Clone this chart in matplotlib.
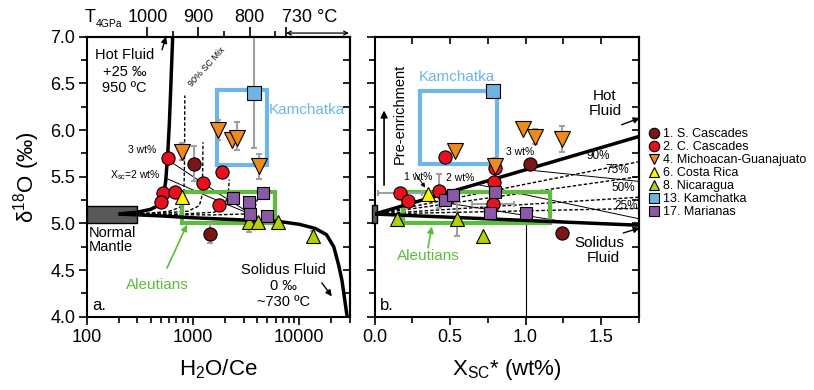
import matplotlib
matplotlib.use('Agg')
import matplotlib.pyplot as plt
from matplotlib.lines import Line2D
from matplotlib.patches import Rectangle
from matplotlib.ticker import FixedLocator, NullFormatter, LogLocator

plt.rcParams['font.family'] = ['Liberation Sans', 'DejaVu Sans']
plt.rcParams['mathtext.fontset'] = 'custom'
plt.rcParams['mathtext.rm'] = 'Liberation Sans'
plt.rcParams['mathtext.it'] = 'Liberation Sans:italic'
plt.rcParams['mathtext.default'] = 'regular'

# ---------------- colours ----------------
C_SCASC = '#7a1518'
C_CCASC = '#e8101f'
C_MICH = '#f08a1c'
C_CR = '#fff200'
C_NIC = '#b5d000'
C_KAM = '#6bb4e4'
C_MAR = '#8a58a6'
C_KAMBOX = '#6cb6e8'
C_ALEU = '#5cbd3a'
GRAY = '#a0a0a0'

# ---------------- axes ticks ----------------
y_major = [4.0, 4.5, 5.0, 5.5, 6.0, 6.5, 7.0]
y_labels = ['4.0', '4.5', '5.0', '5.5', '6.0', '6.5', '7.0']
y_minor = [4.25, 4.75, 5.25, 5.75, 6.25, 6.75]
y_all = [4.0, 4.25, 4.5, 4.75, 5.0, 5.25, 5.5, 5.75, 6.0, 6.25, 6.5, 6.75, 7.0]
a_x_major = [100, 1000, 10000]
a_x_labels = ['100', '1000', '10000']
b_x_major = [0.0, 0.5, 1.0, 1.5]
b_x_labels = ['0.0', '0.5', '1.0', '1.5']
b_x_minor = [0.25, 0.75, 1.25, 1.75]
b_x_all = [0.0, 0.25, 0.5, 0.75, 1.0, 1.25, 1.5, 1.75]

# ---------------- panel a data (H2O/Ce, d18O) ----------------
a_scasc_x = [1014, 1462]
a_scasc_y = [5.64, 4.89]
a_ccasc_x = [586, 1888, 1245, 526, 679, 499, 1753]
a_ccasc_y = [5.70, 5.55, 5.43, 5.32, 5.34, 5.23, 5.20]
a_mich_x = [786, 1718, 2351, 2625, 4160]
a_mich_y = [5.77, 6.00, 5.89, 5.91, 5.61]
a_cr_x = [798]
a_cr_y = [5.28]
a_nic_x = [3388, 4070, 6310, 13600]
a_nic_y = [5.01, 5.02, 5.02, 4.86]
a_kam_x = [3724]
a_kam_y = [6.40]
a_mar_x = [2404, 3342, 4540, 3467, 4990]
a_mar_y = [5.27, 5.23, 5.32, 5.10, 5.08]

a_err_x = [3724, 786, 1718, 2625, 4160, 1014, 1462, 3388, 13600]
a_err_y = [6.40, 5.77, 6.00, 5.94, 5.61, 5.64, 4.89, 5.01, 4.86]
a_err_lo = [0.59, 0.09, 0.11, 0.15, 0.13, 0.19, 0.10, 0.10, 0.06]
a_err_hi = [0.80, 0.09, 0.11, 0.15, 0.13, 0.19, 0.10, 0.10, 0.06]

# model curves, panel a
hot_x = [200, 300, 400, 470, 510, 535, 555, 578, 600, 622, 646, 655]
hot_y = [5.10, 5.12, 5.15, 5.19, 5.25, 5.33, 5.45, 5.71, 6.05, 6.50, 7.00, 7.20]
sol_x = [200, 500, 1000, 2500, 6500, 10000, 14100, 18000, 21100, 23500, 25200, 27000, 28200, 29000]
sol_y = [5.10, 5.08, 5.06, 5.04, 5.02, 4.99, 4.946, 4.88, 4.75, 4.55, 4.39, 4.15, 4.00, 3.90]
m90_x = [200, 400, 600, 750, 800, 825, 835, 840]
m90_y = [5.10, 5.11, 5.13, 5.17, 5.22, 5.35, 5.70, 6.37]
m75_x = [200, 500, 900, 1150, 1210, 1235, 1245]
m75_y = [5.10, 5.11, 5.13, 5.19, 5.28, 5.50, 5.87]
m50_x = [200, 800, 1600, 2000, 2150, 2200]
m50_y = [5.10, 5.10, 5.12, 5.20, 5.32, 5.47]
m25_x = [200, 1500, 3000, 3800, 4100]
m25_y = [5.10, 5.09, 5.10, 5.16, 5.28]
iso3_x = [600, 1860, 3300]
iso3_y = [5.67, 5.30, 5.12]
iso2_x = [568, 1660, 3300]
iso2_y = [5.48, 5.25, 5.11]

# temperature scale (T at 4 GPa) positions along H2O/Ce
t_major_pos = [373, 1117, 3414, 7514]
t_major_lab = ['1000', '900', '800', '']
t_minor_pos = [646, 1973, 5906]

# ---------------- panel b data (Xsc*, d18O) ----------------
b_scasc_x = [1.032, 1.243]
b_scasc_y = [5.64, 4.90]
b_ccasc_x = [0.467, 0.80, 0.788, 0.168, 0.223, 0.427, 0.784]
b_ccasc_y = [5.71, 5.59, 5.44, 5.33, 5.24, 5.35, 5.21]
b_mich_x = [0.529, 0.80, 0.981, 1.065, 1.243]
b_mich_y = [5.775, 5.61, 6.01, 5.93, 5.90]
b_cr_x = [0.356]
b_cr_y = [5.31]
b_nic_x = [0.150, 0.545, 0.718]
b_nic_y = [5.05, 5.05, 4.87]
b_kam_x = [0.784]
b_kam_y = [6.42]
b_mar_x = [0.463, 0.516, 0.795, 0.762, 1.003]
b_mar_y = [5.25, 5.30, 5.34, 5.11, 5.11]

b_xerr_x = [0.168, 0.784]
b_xerr_y = [5.33, 5.21]
b_xerr = [0.147, 0.14]
b_yerr_x = [0.427, 1.243, 1.065, 0.80, 0.545]
b_yerr_y = [5.35, 5.90, 5.93, 5.59, 5.05]
b_yerr = [0.18, 0.14, 0.08, 0.11, 0.18]

bx_ends = [0.0, 1.75]
b_hot_y = [5.10, 5.93]
b_sol_y = [5.10, 4.98]
b_mix_y = {'90%': [5.10, 5.66], '75%': [5.10, 5.50], '50%': [5.10, 5.28], '25%': [5.10, 5.16]}
b_iso3_x = [1.0, 1.75]
b_iso3_y = [5.575, 5.45]
b_iso2_x = [0.67, 1.75]
b_iso2_y = [5.42, 5.05]
b_iso1_x = [0.33, 1.25]
b_iso1_y = [5.257, 5.02]

# ---------------- figure ----------------
W, H = 814, 390
fig = plt.figure(figsize=(W / 100, H / 100), dpi=100)


def rect(l, t, r, b):
    return [l / W, 1 - b / H, (r - l) / W, (b - t) / H]


ax1 = fig.add_axes(rect(86.5, 36.7, 350, 316.7))
ax2 = fig.add_axes(rect(374.7, 36.7, 638.7, 316.7))

TICK_FS = 13
ANN = 10.5

for ax in (ax1, ax2):
    for s in ax.spines.values():
        s.set_linewidth(1.5)
    ax.set_ylim(4.0, 7.0)
    ax.set_yticks(y_major)
    ax.set_yticks(y_minor, minor=True)
    ax.tick_params(axis='both', which='both', width=1.2, labelsize=TICK_FS)
    ax.tick_params(axis='y', which='major', length=6, direction='out', left=True, right=False, pad=2)
    ax.tick_params(axis='y', which='minor', length=4, direction='out', left=True, right=False)
    ax.tick_params(axis='x', which='major', length=6, direction='out', top=False, pad=3)
    ax.tick_params(axis='x', which='minor', length=4, direction='out', top=False)
    sec = ax.secondary_yaxis('right')
    sec.set_yticks(y_all)
    sec.tick_params(direction='in', length=5, width=1.2, labelright=False)
    sec.spines['right'].set_linewidth(1.5)

ax1.set_yticklabels(y_labels)
ax2.set_yticklabels([])


def pts(ax, x, y, marker, fc, ms, z):
    ax.plot(x, y, ls='none', marker=marker, mfc=fc, mec='k', mew=0.8, ms=ms, zorder=z)


# ---- panel a ----
ax1.set_xscale('log')
ax1.set_xlim(100, 30000)
ax1.set_xticks(a_x_major)
ax1.set_xticklabels(a_x_labels)
ax1.xaxis.set_minor_locator(LogLocator(base=10, subs=range(2, 10)))
ax1.xaxis.set_minor_formatter(NullFormatter())
ax1.set_xlabel('H$_2$O/Ce', fontsize=16, labelpad=8)
ax1.set_ylabel('δ$^{18}$O (‰)', fontsize=16, labelpad=6)

ax1.add_patch(Rectangle((100, 5.0), 200, 0.19, fc='#595959', ec='k', lw=1.0, zorder=3))
for mx, my in ((m90_x, m90_y), (m75_x, m75_y), (m50_x, m50_y), (m25_x, m25_y)):
    ax1.plot(mx, my, color='k', lw=1.0, ls=(0, (2.5, 1.5)), zorder=2)
ax1.plot(iso3_x, iso3_y, color='k', lw=0.7, zorder=2)
ax1.plot(iso2_x, iso2_y, color='k', lw=0.7, zorder=2)
ax1.plot(hot_x, hot_y, color='k', lw=2.5, zorder=3, solid_capstyle='butt')
ax1.plot(sol_x, sol_y, color='k', lw=2.5, zorder=3, solid_capstyle='butt')
ax1.add_patch(Rectangle((1700, 5.63), 3300, 0.80, fc='none', ec=C_KAMBOX, lw=3, zorder=2))
ax1.add_patch(Rectangle((790, 5.0), 5100, 0.34, fc='none', ec=C_ALEU, lw=3, zorder=2))
ax1.errorbar(a_err_x, a_err_y, yerr=[a_err_lo, a_err_hi], fmt='none', ecolor=GRAY,
             elinewidth=1.5, capsize=2.5, capthick=1.5, zorder=4)
pts(ax1, a_scasc_x, a_scasc_y, 'o', C_SCASC, 9.5, 5)
pts(ax1, a_ccasc_x, a_ccasc_y, 'o', C_CCASC, 9.5, 5)
pts(ax1, a_mich_x, a_mich_y, 'v', C_MICH, 11.5, 6)
pts(ax1, a_cr_x, a_cr_y, '^', C_CR, 10.5, 6)
pts(ax1, a_nic_x, a_nic_y, '^', C_NIC, 10.5, 6)
pts(ax1, a_kam_x, a_kam_y, 's', C_KAM, 9.5, 7)
pts(ax1, a_mar_x, a_mar_y, 's', C_MAR, 9.0, 7)

T1 = ax1.transAxes
ax1.text(0.144, 0.936, 'Hot Fluid', transform=T1, ha='center', va='center', fontsize=ANN)
ax1.text(0.144, 0.875, '+25 ‰', transform=T1, ha='center', va='center', fontsize=ANN)
ax1.text(0.144, 0.818, '950 ºC', transform=T1, ha='center', va='center', fontsize=ANN)
ax1.text(0.458, 0.893, '90% SC Mix', transform=T1, ha='center', va='center', fontsize=6.5, rotation=48)
ax1.text(0.212, 0.596, '3 wt%', transform=T1, ha='center', va='center', fontsize=7.5)
ax1.text(0.186, 0.507, 'X$_{sc}$=2 wt%', transform=T1, ha='center', va='center', fontsize=7.5)
ax1.text(0.008, 0.273, 'Normal\nMantle', transform=T1, ha='left', va='center', fontsize=ANN, linespacing=1.0)
ax1.text(0.836, 0.739, 'Kamchatka', transform=T1, ha='center', va='center', fontsize=11, color=C_KAMBOX)
ax1.text(0.268, 0.114, 'Aleutians', transform=T1, ha='center', va='center', fontsize=11, color=C_ALEU)
ax1.text(0.746, 0.168, 'Solidus Fluid', transform=T1, ha='center', va='center', fontsize=ANN)
ax1.text(0.746, 0.111, '0 ‰', transform=T1, ha='center', va='center', fontsize=ANN)
ax1.text(0.746, 0.054, '~730 ºC', transform=T1, ha='center', va='center', fontsize=ANN)
ax1.text(0.022, 0.040, 'a.', transform=T1, ha='left', va='center', fontsize=12)
ax1.annotate('', xy=(0.3814, 0.329), xytext=(0.3057, 0.174), xycoords=T1,
             arrowprops=dict(arrowstyle='-|>', color=C_ALEU, lw=1.2, mutation_scale=9, shrinkA=0, shrinkB=0))
ax1.annotate('', xy=(0.302, 1.0), xytext=(0.2867, 0.9536), xycoords=T1, annotation_clip=False,
             arrowprops=dict(arrowstyle='-|>', color='k', lw=1.0, mutation_scale=9, shrinkA=0, shrinkB=0))
ax1.annotate('', xy=(0.931, 0.0725), xytext=(0.893, 0.121), xycoords=T1,
             arrowprops=dict(arrowstyle='-|>', color='k', lw=1.0, mutation_scale=9, shrinkA=0, shrinkB=0))

# temperature axis on top of panel a
axT = ax1.twiny()
axT.set_xscale('log')
axT.set_xlim(ax1.get_xlim())
for k in ('left', 'right', 'bottom'):
    axT.spines[k].set_visible(False)
axT.spines['top'].set_linewidth(1.5)
axT.xaxis.set_major_locator(FixedLocator(t_major_pos))
axT.set_xticklabels(t_major_lab)
axT.xaxis.set_minor_locator(FixedLocator(t_minor_pos))
axT.xaxis.set_minor_formatter(NullFormatter())
axT.tick_params(axis='x', which='major', direction='out', length=7.5, width=1.2, labelsize=TICK_FS, pad=0)
axT.tick_params(axis='x', which='minor', direction='out', length=4, width=1.2)
fig.text(85 / W, 1 - 18 / H, 'T', ha='left', va='center', fontsize=TICK_FS)
fig.text(96 / W, 1 - 24 / H, '4GPa', ha='left', va='center', fontsize=7.5)
fig.text(282 / W, 1 - 18 / H, '730 °C', ha='left', va='center', fontsize=TICK_FS)
ax1.annotate('', xy=(29300, 1.013), xytext=(7514, 1.013), xycoords=('data', 'axes fraction'),
             annotation_clip=False,
             arrowprops=dict(arrowstyle='<->', color='k', lw=0.9, mutation_scale=7, shrinkA=0, shrinkB=0))

# ---- panel b ----
ax2.set_xlim(0, 1.75)
ax2.set_xticks(b_x_major)
ax2.set_xticklabels(b_x_labels)
ax2.set_xticks(b_x_minor, minor=True)
ax2.set_xlabel('X$_{SC}$* (wt%)', fontsize=16, labelpad=8)
secx = ax2.secondary_xaxis('top')
secx.set_xticks(b_x_all)
secx.tick_params(direction='in', length=5, width=1.2, labeltop=False)
secx.spines['top'].set_linewidth(1.5)

ax2.add_patch(Rectangle((-0.018, 5.0), 0.033, 0.2, fc='#595959', ec='k', lw=1.0, zorder=3, clip_on=False))
for lab, yy in b_mix_y.items():
    ax2.plot(bx_ends, yy, color='k', lw=1.0, ls=(0, (2.5, 1.5)), zorder=2)
ax2.plot(b_iso3_x, b_iso3_y, color='k', lw=0.7, zorder=2)
ax2.plot(b_iso2_x, b_iso2_y, color='k', lw=0.7, zorder=2)
ax2.plot(b_iso1_x, b_iso1_y, color='k', lw=0.7, zorder=2)
ax2.plot([1.0, 1.0], [4.0, 5.11], color='k', lw=0.8, zorder=2)
ax2.plot(bx_ends, b_hot_y, color='k', lw=2.5, zorder=3)
ax2.plot(bx_ends, b_sol_y, color='k', lw=2.5, zorder=3)
ax2.add_patch(Rectangle((0.30, 5.64), 0.51, 0.78, fc='none', ec=C_KAMBOX, lw=3, zorder=2))
ax2.add_patch(Rectangle((0.19, 5.0), 0.975, 0.34, fc='none', ec=C_ALEU, lw=3, zorder=2))
ax2.errorbar(b_xerr_x, b_xerr_y, xerr=b_xerr, fmt='none', ecolor=GRAY, elinewidth=1.5,
             capsize=2.5, capthick=1.5, zorder=4)
ax2.errorbar(b_yerr_x, b_yerr_y, yerr=b_yerr, fmt='none', ecolor=GRAY, elinewidth=1.5,
             capsize=2.5, capthick=1.5, zorder=4)
pts(ax2, b_scasc_x, b_scasc_y, 'o', C_SCASC, 9.5, 5)
pts(ax2, b_ccasc_x, b_ccasc_y, 'o', C_CCASC, 9.5, 5)
pts(ax2, b_mich_x, b_mich_y, 'v', C_MICH, 11.5, 6)
pts(ax2, b_cr_x, b_cr_y, '^', C_CR, 10.5, 6)
pts(ax2, b_nic_x, b_nic_y, '^', C_NIC, 10.5, 6)
pts(ax2, b_kam_x, b_kam_y, 's', C_KAM, 9.5, 7)
pts(ax2, b_mar_x, b_mar_y, 's', C_MAR, 9.0, 7)

T2 = ax2.transAxes
ax2.text(0.096, 0.723, 'Pre-enrichment', transform=T2, ha='center', va='center', fontsize=ANN, rotation=90)
ax2.annotate('', xy=(0.062, 6.21), xytext=(0.062, 5.41),
             arrowprops=dict(arrowstyle='-|>', color='k', lw=1.2, mutation_scale=10, shrinkA=0, shrinkB=0))
ax2.text(0.311, 0.856, 'Kamchatka', transform=T2, ha='center', va='center', fontsize=11, color=C_KAMBOX)
ax2.text(0.872, 0.787, 'Hot', transform=T2, ha='center', va='center', fontsize=11)
ax2.text(0.872, 0.735, 'Fluid', transform=T2, ha='center', va='center', fontsize=11)
ax2.text(0.550, 0.587, '3 wt%', transform=T2, ha='center', va='center', fontsize=7.5)
ax2.text(0.323, 0.496, '2 wt%', transform=T2, ha='center', va='center', fontsize=7.5)
ax2.text(0.164, 0.500, '1 wt%', transform=T2, ha='center', va='center', fontsize=7.5)
for lab, fx, fy in (('90%', 0.846, 0.5725), ('75%', 0.917, 0.525), ('50%', 0.940, 0.461), ('25%', 0.954, 0.394)):
    ax2.text(fx, fy, lab, transform=T2, ha='center', va='center', fontsize=8.5)
ax2.text(0.203, 0.215, 'Aleutians', transform=T2, ha='center', va='center', fontsize=11, color=C_ALEU)
ax2.text(0.850, 0.264, 'Solidus', transform=T2, ha='center', va='center', fontsize=11)
ax2.text(0.865, 0.211, 'Fluid', transform=T2, ha='center', va='center', fontsize=11)
ax2.text(0.020, 0.040, 'b.', transform=T2, ha='left', va='center', fontsize=12)
ax2.annotate('', xy=(0.191, 0.461), xytext=(0.153, 0.514), xycoords=T2,
             arrowprops=dict(arrowstyle='-|>', color='k', lw=0.7, mutation_scale=6, shrinkA=0, shrinkB=0))
ax2.annotate('', xy=(0.216, 0.3225), xytext=(0.202, 0.246), xycoords=T2,
             arrowprops=dict(arrowstyle='-|>', color=C_ALEU, lw=1.2, mutation_scale=9, shrinkA=0, shrinkB=0))
ax2.annotate('', xy=(1.004, 0.7096), xytext=(0.9356, 0.6857), xycoords=T2, annotation_clip=False,
             arrowprops=dict(arrowstyle='-|>', color='k', lw=1.0, mutation_scale=9, shrinkA=0, shrinkB=0))
ax2.annotate('', xy=(1.004, 0.317), xytext=(0.9417, 0.299), xycoords=T2, annotation_clip=False,
             arrowprops=dict(arrowstyle='-|>', color='k', lw=1.0, mutation_scale=9, shrinkA=0, shrinkB=0))

# ---- legend ----
leg_items = [
    ('o', C_SCASC, '1. S. Cascades'),
    ('o', C_CCASC, '2. C. Cascades'),
    ('v', C_MICH, '4. Michoacan-Guanajuato'),
    ('^', C_CR, '6. Costa Rica'),
    ('^', C_NIC, '8. Nicaragua'),
    ('s', C_KAM, '13. Kamchatka'),
    ('s', C_MAR, '17. Marianas'),
]
handles = [Line2D([], [], ls='none', marker=m, mfc=c, mec='k', mew=0.8, ms=7.5, label=l)
           for m, c, l in leg_items]
fig.legend(handles=handles, loc='upper left', bbox_to_anchor=(649 / W, 1 - 128 / H), frameon=False,
           fontsize=9, handlelength=0.8, handletextpad=0.35, labelspacing=0.08,
           borderpad=0, borderaxespad=0)

fig.savefig('out.png', dpi=100)
